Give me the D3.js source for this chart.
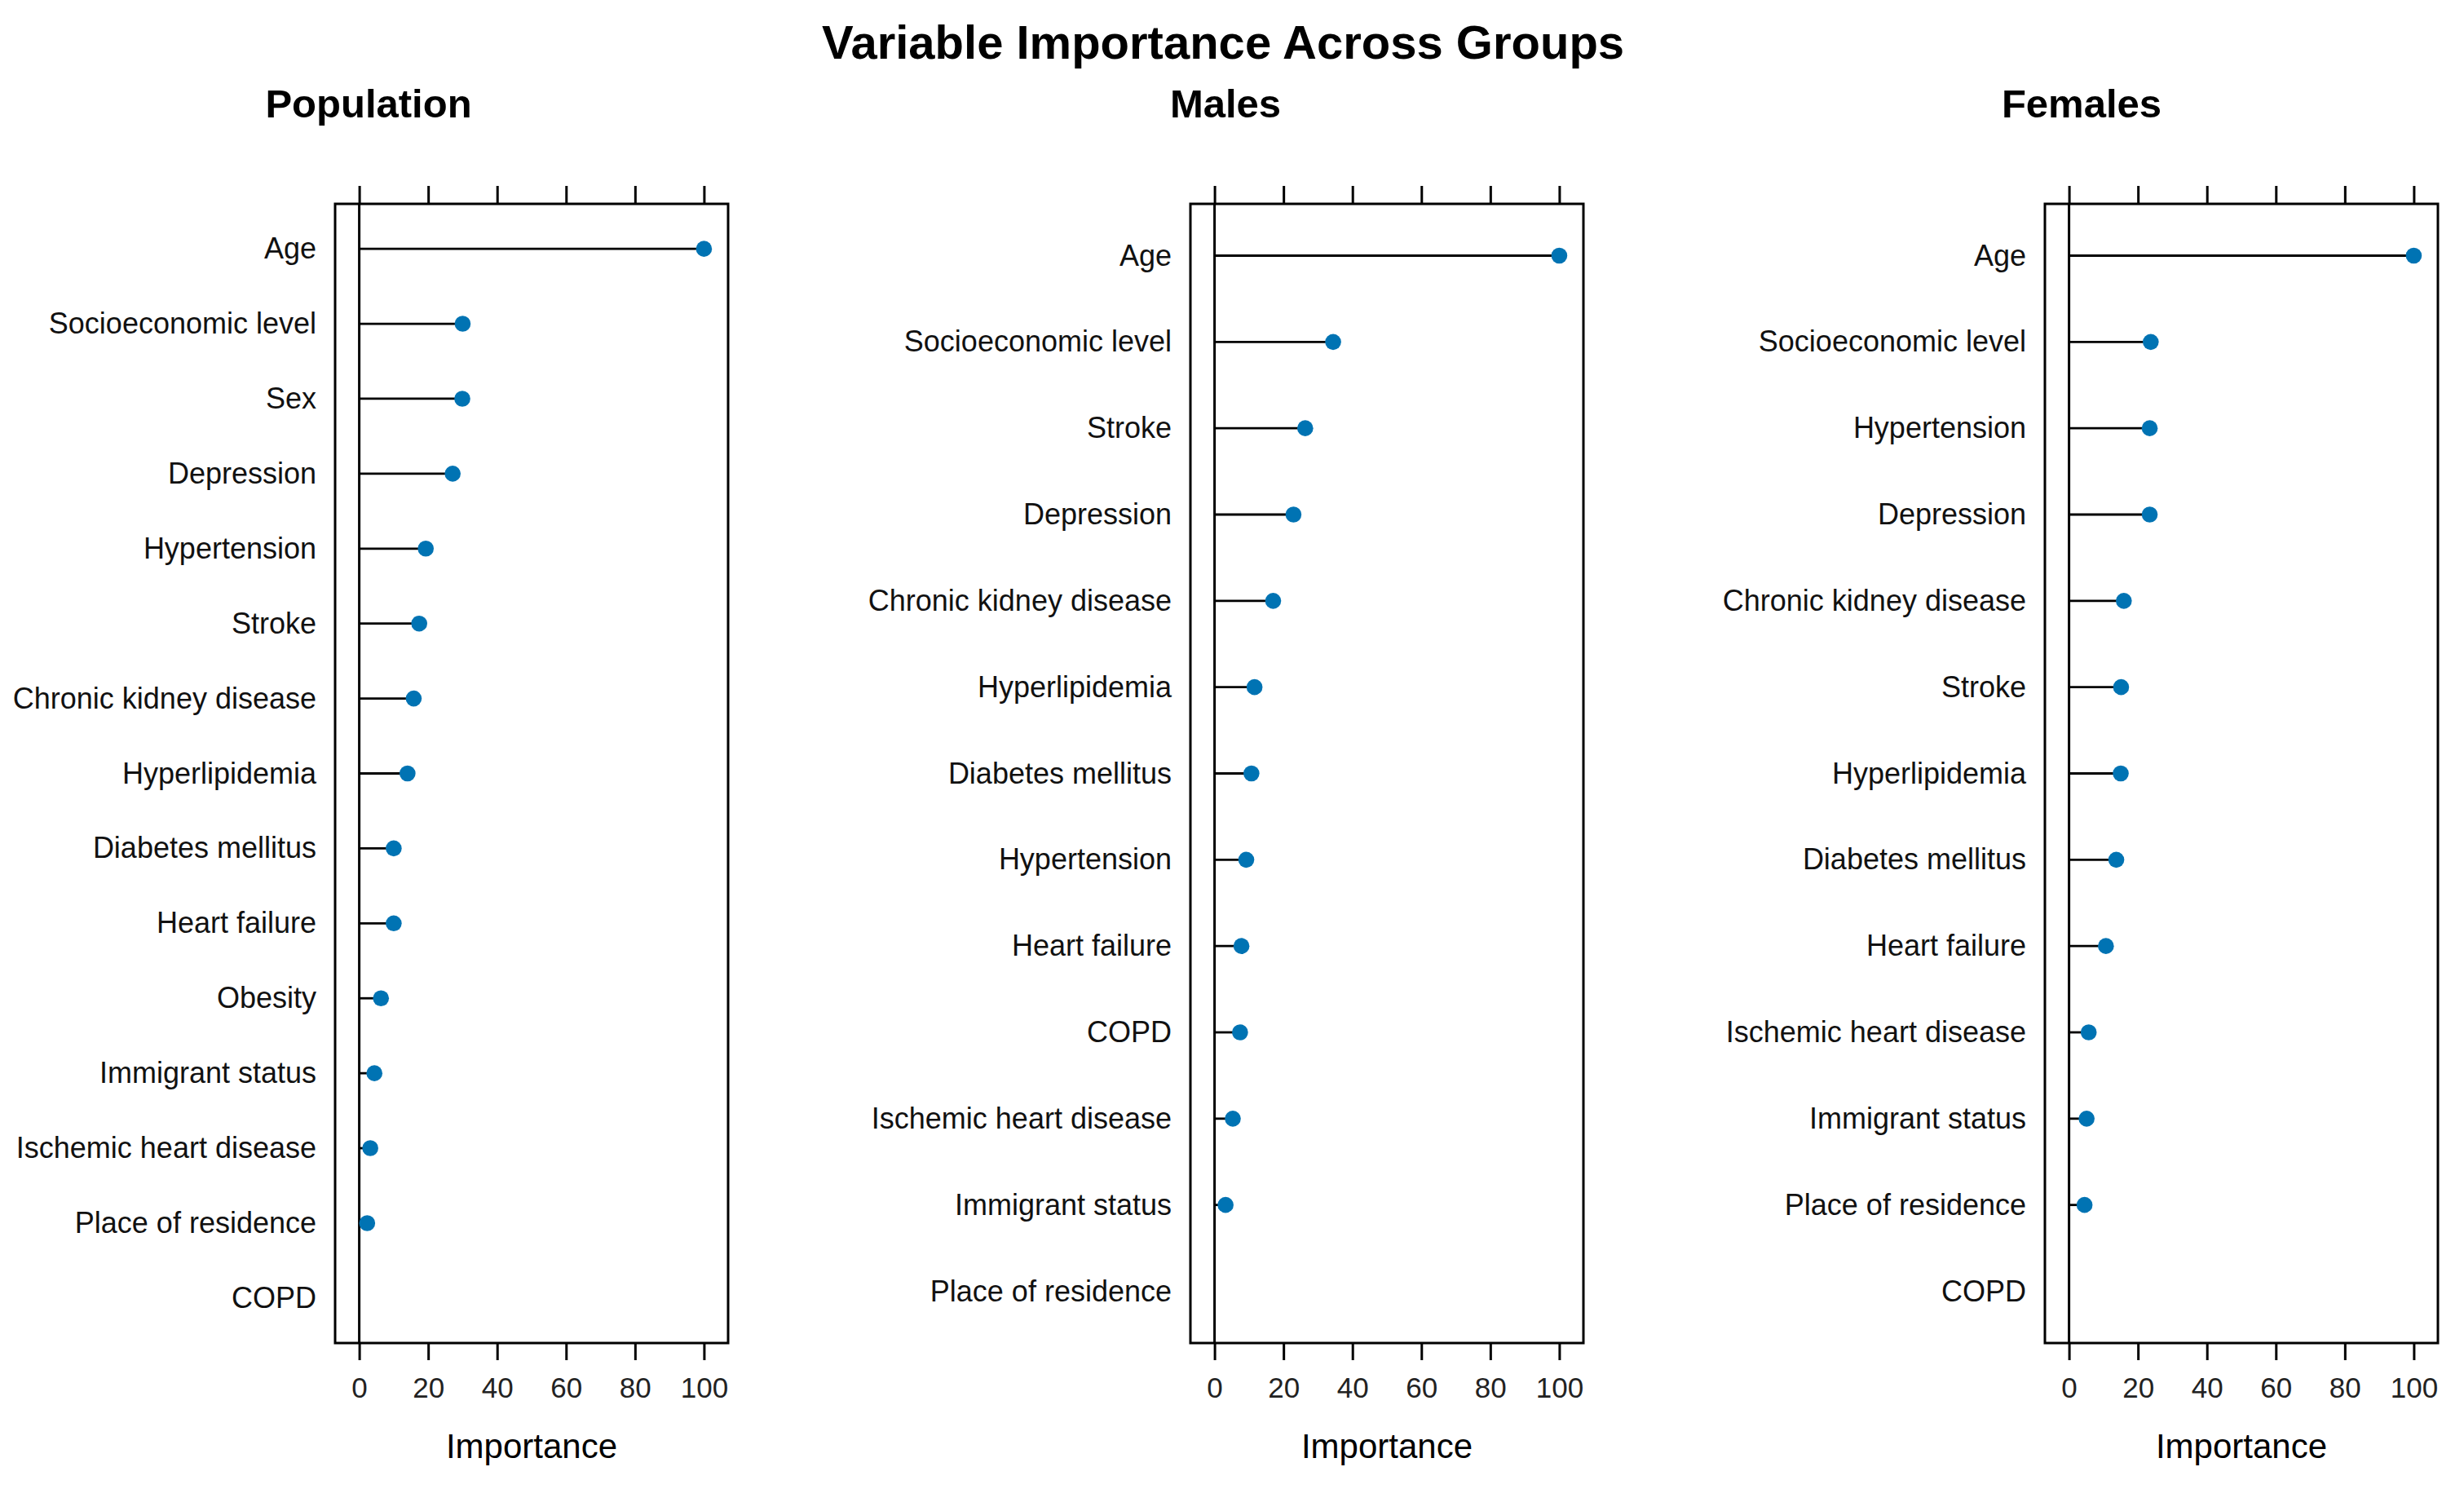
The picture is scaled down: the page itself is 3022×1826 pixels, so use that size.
<!DOCTYPE html>
<html>
<head>
<meta charset="utf-8">
<script src="https://cdn.jsdelivr.net/npm/d3@7"></script>
<style>
  body { margin: 0; background: #fff; }
  text { font-family: Arial, "Liberation Sans", sans-serif; }
</style>
</head>
<body>
<div id="chart"></div>
<script>
const panelTitles = ["Population", "Males", "Females"]

const popVars = ["Age", "Socioeconomic level", "Sex", "Depression", "Hypertension", "Stroke",
  "Chronic kidney disease", "Hyperlipidemia", "Diabetes mellitus", "Heart failure", "Obesity",
  "Immigrant status", "Ischemic heart disease", "Place of residence", "COPD"]
const popValues = [100, 30.0, 29.9, 27.1, 19.3, 17.4, 15.8, 14.0, 10.0, 10.0, 6.3, 4.4, 3.2, 2.3, 0]

const maleVars = ["Age", "Socioeconomic level", "Stroke", "Depression", "Chronic kidney disease",
  "Hyperlipidemia", "Diabetes mellitus", "Hypertension", "Heart failure", "COPD",
  "Ischemic heart disease", "Immigrant status", "Place of residence"]
const maleValues = [100, 34.4, 26.3, 22.9, 17.0, 11.6, 10.7, 9.2, 7.8, 7.4, 5.3, 3.2, 0]

const femaleVars = ["Age", "Socioeconomic level", "Hypertension", "Depression", "Chronic kidney disease",
  "Stroke", "Hyperlipidemia", "Diabetes mellitus", "Heart failure", "Ischemic heart disease",
  "Immigrant status", "Place of residence", "COPD"]
const femaleValues = [100, 23.7, 23.4, 23.4, 15.9, 15.1, 15.0, 13.7, 10.7, 5.7, 5.1, 4.5, 0]

const xTicks = [0, 20, 40, 60, 80, 100]
const xDomain = [-7, 107]

const width = 3022, height = 1826

const svg = d3.select("#chart")
  .append("svg")
  .attr("width", width)
  .attr("height", height)
  .attr("viewBox", [0, 0, width, height])

svg.append("text")
  .attr("x", 1500)
  .attr("y", 72)
  .attr("text-anchor", "middle")
  .style("font-size", "58px")
  .style("font-weight", "bold")
  .text("Variable Importance Across Groups")

function drawDotPlot(svg, left, titleX, title, vars, values){
  const top = 250, w = 482, h = 1397

  const data = vars.map((v, i) => ({name: v, value: values[i]}))

  const x = d3.scaleLinear().domain(xDomain).range([left, left + w])
  const y = d3.scalePoint().domain(vars).range([top, top + h]).padding(0.6)

  const g = svg.append("g")

  g.append("text")
    .attr("x", titleX)
    .attr("y", 144)
    .attr("text-anchor", "middle")
    .style("font-size", "49px")
    .style("font-weight", "bold")
    .text(title)

  // top ticks, no labels
  g.append("g")
    .attr("transform", `translate(0,${top})`)
    .call(d3.axisTop(x).tickValues(xTicks).tickSize(22).tickSizeOuter(0).tickFormat(""))
    .call(a => a.select(".domain").remove())
    .call(a => a.selectAll("line").attr("stroke", "#000").attr("stroke-width", 3))

  g.append("g")
    .attr("transform", `translate(0,${top + h})`)
    .call(d3.axisBottom(x).tickValues(xTicks).tickSize(21).tickSizeOuter(0).tickPadding(21))
    .call(a => a.select(".domain").remove())
    .call(a => a.selectAll("line").attr("stroke", "#000").attr("stroke-width", 3))
    .call(a => a.selectAll("text")
      .attr("fill", "#222")
      .style("font-size", "35px")
      .style("font-family", "Arial, 'Liberation Sans', sans-serif"))

  g.append("g")
    .attr("transform", `translate(${left},0)`)
    .call(d3.axisLeft(y).tickSize(0).tickPadding(23))
    .call(a => a.select(".domain").remove())
    .call(a => a.selectAll("text")
      .attr("fill", "#111")
      .style("font-size", "36px")
      .style("font-family", "Arial, 'Liberation Sans', sans-serif"))

  g.append("rect")
    .attr("x", left)
    .attr("y", top)
    .attr("width", w)
    .attr("height", h)
    .attr("fill", "none")
    .attr("stroke", "#000")
    .attr("stroke-width", 3)

  g.append("line")
    .attr("x1", x(0)).attr("x2", x(0))
    .attr("y1", top).attr("y2", top + h)
    .attr("stroke", "#000")
    .attr("stroke-width", 3)

  g.selectAll(".stem")
    .data(data)
    .enter()
    .append("line")
    .attr("class", "stem")
    .attr("x1", x(0))
    .attr("x2", d => x(d.value))
    .attr("y1", d => y(d.name))
    .attr("y2", d => y(d.name))
    .attr("stroke", "#000")
    .attr("stroke-width", 2.8)

  g.selectAll(".dot")
    .data(data.filter(d => d.value > 0))
    .enter()
    .append("circle")
    .attr("class", "dot")
    .attr("cx", d => x(d.value))
    .attr("cy", d => y(d.name))
    .attr("r", 9.8)
    .attr("fill", "#0073B3")

  g.append("text")
    .attr("x", left + w / 2)
    .attr("y", 1788)
    .attr("text-anchor", "middle")
    .style("font-size", "42px")
    .text("Importance")
}

drawDotPlot(svg, 411, 452, panelTitles[0], popVars, popValues)
drawDotPlot(svg, 1460, 1503, panelTitles[1], maleVars, maleValues)
drawDotPlot(svg, 2508, 2553, panelTitles[2], femaleVars, femaleValues)
</script>
</body>
</html>
